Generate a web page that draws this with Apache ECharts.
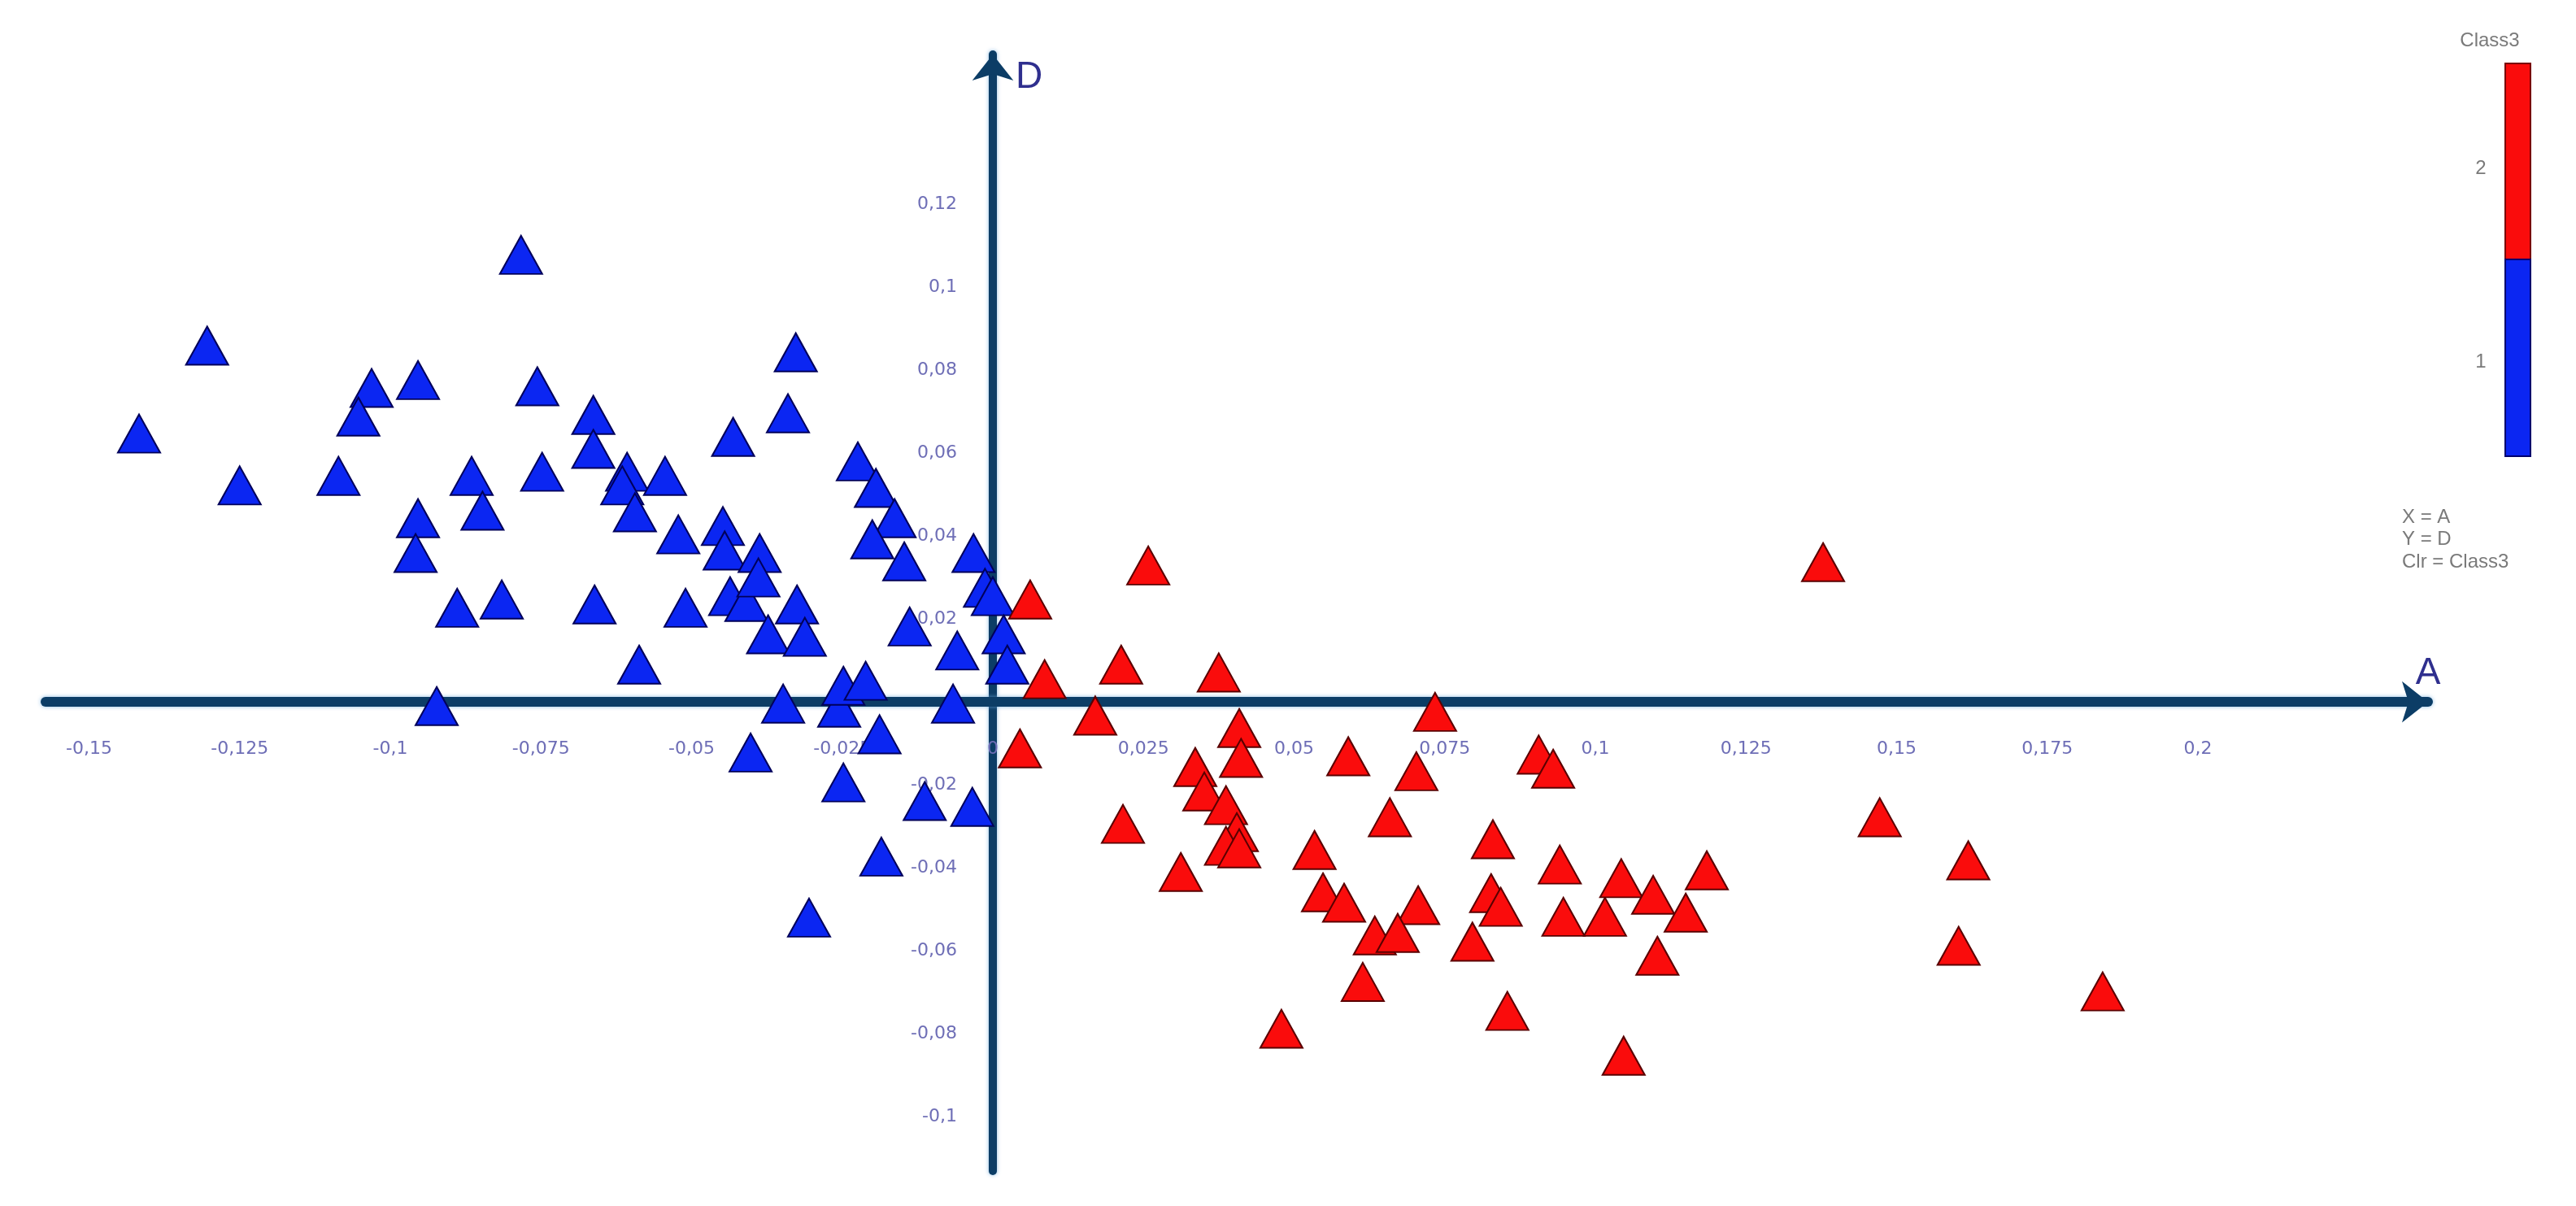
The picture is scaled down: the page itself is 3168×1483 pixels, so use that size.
<!DOCTYPE html>
<html lang="en">
<head>
    <meta charset="UTF-8">
    <title>A / D - Class3</title>
    <script type="text/javascript" src="https://cdn.jsdelivr.net/npm/echarts@6/dist/echarts.min.js"></script>
    <style>
        html, body { margin: 0; padding: 0; background: #fff; }
        #main { width: 3168px; height: 1483px; }
    </style>
</head>
<body>
<div id="main"></div>
<script type="text/javascript">
    // class 1 (blue)
    var class1A = [-0.1417, -0.1304, -0.1250, -0.1086, -0.1031, -0.1053, -0.0954, -0.0865, -0.0847, -0.0954,
        -0.0958, -0.0783, -0.0756, -0.0663, -0.0663, -0.0748, -0.0607, -0.0615, -0.0544, -0.0594,
        -0.0431, -0.0327, -0.0340, -0.0522, -0.0448, -0.0445, -0.0387, -0.0224, -0.0194, -0.0163,
        -0.0200, -0.0147, -0.0032, -0.0889, -0.0815, -0.0661, -0.0510, -0.0436, -0.0409, -0.0389,
        -0.0325, -0.0373, -0.0312, -0.0138, -0.0059, -0.0013, 0.0000, 0.0018, 0.0024, -0.0587,
        -0.0923, -0.0348, -0.0255, -0.0248, -0.0211, -0.0066, -0.0188, -0.0402, -0.0248, -0.0113,
        -0.0034, -0.0185, -0.0305];
    var class1D = [0.0647, 0.0859, 0.0522, 0.0545, 0.0757, 0.0688, 0.0776, 0.0545, 0.0461, 0.0443,
        0.0359, 0.1078, 0.0761, 0.0692, 0.0610, 0.0555, 0.0555, 0.0522, 0.0545, 0.0457,
        0.0639, 0.0843, 0.0696, 0.0404, 0.0424, 0.0365, 0.0359, 0.0580, 0.0516, 0.0443,
        0.0392, 0.0339, 0.0359, 0.0227, 0.0247, 0.0235, 0.0227, 0.0255, 0.0241, 0.0300,
        0.0235, 0.0163, 0.0157, 0.0182, 0.0124, 0.0275, 0.0255, 0.0163, 0.0090, 0.0090,
        -0.0010, -0.0004, -0.0014, 0.0039, 0.0051, -0.0004, -0.0078, -0.0122, -0.0194, -0.0239,
        -0.0253, -0.0373, -0.0520];
    // class 2 (red)
    var class2A = [0.0258, 0.0062, 0.0086, 0.0213, 0.0375, 0.0170, 0.0045, 0.0734, 0.0409, 0.0412,
        0.0336, 0.0351, 0.0387, 0.0405, 0.0387, 0.0409, 0.0590, 0.0703, 0.0906, 0.0930,
        0.0659, 0.0216, 0.0312, 0.0534, 0.0830, 0.0548, 0.0583, 0.0706, 0.0634, 0.0672,
        0.0614, 0.0479, 0.0796, 0.0827, 0.0843, 0.0854, 0.0941, 0.0947, 0.1016, 0.1043,
        0.1096, 0.1150, 0.1185, 0.1103, 0.1047, 0.1378, 0.1472, 0.1619, 0.1603, 0.1842];
    var class2D = [0.0329, 0.0247, 0.0055, 0.0090, 0.0071, -0.0033, -0.0112, -0.0024, -0.0063, -0.0135,
        -0.0157, -0.0216, -0.0249, -0.0314, -0.0347, -0.0353, -0.0131, -0.0167, -0.0127, -0.0161,
        -0.0278, -0.0294, -0.0410, -0.0357, -0.0331, -0.0459, -0.0484, -0.0490, -0.0563, -0.0557,
        -0.0675, -0.0788, -0.0578, -0.0461, -0.0494, -0.0745, -0.0392, -0.0518, -0.0518, -0.0425,
        -0.0465, -0.0508, -0.0406, -0.0612, -0.0853, 0.0337, -0.0278, -0.0382, -0.0588, -0.0698];

    var xTicks = [-0.15, -0.125, -0.1, -0.075, -0.05, -0.025, 0, 0.025, 0.05, 0.075, 0.1, 0.125, 0.15, 0.175, 0.2];
    var yTicks = [-0.1, -0.08, -0.06, -0.04, -0.02, 0.02, 0.04, 0.06, 0.08, 0.1, 0.12];
    var classNames = ['1', '2'];

    var BLUE = '#0b26f2';
    var RED = '#fa0c0c';
    var AXIS = '#0c3d66';

    // grid box; the axes are shifted onto the zero lines with offset
    var gridLeft = 56, gridRight = 182, gridTop = 67, gridBottom = 43;
    var xMin = -0.15722, xMax = 0.2382, yMin = -0.1131, yMax = 0.1561;

    function zip(a, b) {
        var out = [];
        for (var i = 0; i < a.length; i++) out.push([a[i], b[i]]);
        return out;
    }
    function comma(v) {
        return String(v).replace('.', ',');
    }

    var W = 3168, H = 1483;
    var plotW = W - gridLeft - gridRight, plotH = H - gridTop - gridBottom;
    var zeroX = gridLeft + (0 - xMin) / (xMax - xMin) * plotW;
    var zeroY = gridTop + (yMax - 0) / (yMax - yMin) * plotH;

    var mychart = echarts.init(document.getElementById('main'));
    var tickLabel = {
        color: '#6e6eb6',
        fontFamily: 'DejaVu Sans',
        fontSize: 22,
        formatter: comma
    };
    var option = {
        backgroundColor: '#fff',
        animation: false,
        grid: {
            left: gridLeft, right: gridRight, top: gridTop, bottom: gridBottom,
            outerBoundsMode: 'none'
        },
        xAxis: {
            type: 'value',
            min: xMin,
            max: xMax,
            position: 'bottom',
            offset: -(H - gridBottom - zeroY),
            name: 'A',
            nameLocation: 'end',
            nameGap: 0,
            nameTextStyle: {
                color: '#2f2f8e', fontFamily: 'Liberation Sans', fontSize: 46,
                align: 'center', verticalAlign: 'bottom', padding: [0, 0, 12, 0]
            },
            axisLine: {
                onZero: false,
                symbol: ['none', 'arrow'],
                symbolSize: [38, 32],
                lineStyle: { color: AXIS, width: 12, shadowColor: 'rgba(110,170,220,0.8)', shadowBlur: 5 }
            },
            axisTick: { show: false },
            splitLine: { show: false },
            axisLabel: Object.assign({ customValues: xTicks, margin: 47 }, tickLabel)
        },
        yAxis: {
            type: 'value',
            min: yMin,
            max: yMax,
            position: 'left',
            offset: -(zeroX - gridLeft),
            name: 'D',
            nameLocation: 'end',
            nameGap: -28,
            nameTextStyle: {
                color: '#2f2f8e', fontFamily: 'Liberation Sans', fontSize: 46,
                align: 'left', verticalAlign: 'middle', padding: [0, 0, 0, 28]
            },
            axisLine: {
                onZero: false,
                symbol: ['none', 'arrow'],
                symbolSize: [38, 32],
                lineStyle: { color: AXIS, width: 10, shadowColor: 'rgba(110,170,220,0.8)', shadowBlur: 5 }
            },
            axisTick: { show: false },
            splitLine: { show: false },
            axisLabel: Object.assign({ customValues: yTicks, margin: 44 }, tickLabel)
        },
        series: [
            {
                name: classNames[0],
                type: 'scatter',
                symbol: 'triangle',
                symbolSize: [52, 47],
                itemStyle: { color: BLUE, borderColor: '#00005a', borderWidth: 2, opacity: 1 },
                data: zip(class1A, class1D)
            },
            {
                name: classNames[1],
                type: 'scatter',
                symbol: 'triangle',
                symbolSize: [52, 47],
                itemStyle: { color: RED, borderColor: '#5a0000', borderWidth: 2, opacity: 1 },
                data: zip(class2A, class2D)
            }
        ],
        graphic: [
            { type: 'text', x: 3062, y: 50, style: { text: 'Class3', align: 'center', verticalAlign: 'middle', font: '24px "Liberation Sans"', fill: '#7a7a7a' } },
            { type: 'rect', shape: { x: 3081, y: 78, width: 31, height: 241 }, style: { fill: RED, stroke: '#7a0000', lineWidth: 2 } },
            { type: 'rect', shape: { x: 3081, y: 319, width: 31, height: 242 }, style: { fill: BLUE, stroke: '#00006e', lineWidth: 2 } },
            { type: 'text', x: 3051, y: 207, style: { text: classNames[1], align: 'center', verticalAlign: 'middle', font: '24px "Liberation Sans"', fill: '#7a7a7a' } },
            { type: 'text', x: 3051, y: 445, style: { text: classNames[0], align: 'center', verticalAlign: 'middle', font: '24px "Liberation Sans"', fill: '#7a7a7a' } },
            { type: 'text', x: 2954, y: 636, style: { text: 'X = A', align: 'left', verticalAlign: 'middle', font: '24px "Liberation Sans"', fill: '#7a7a7a' } },
            { type: 'text', x: 2954, y: 663, style: { text: 'Y = D', align: 'left', verticalAlign: 'middle', font: '24px "Liberation Sans"', fill: '#7a7a7a' } },
            { type: 'text', x: 2954, y: 691, style: { text: 'Clr = Class3', align: 'left', verticalAlign: 'middle', font: '24px "Liberation Sans"', fill: '#7a7a7a' } }
        ]
    };
    mychart.setOption(option);
</script>
</body>
</html>
